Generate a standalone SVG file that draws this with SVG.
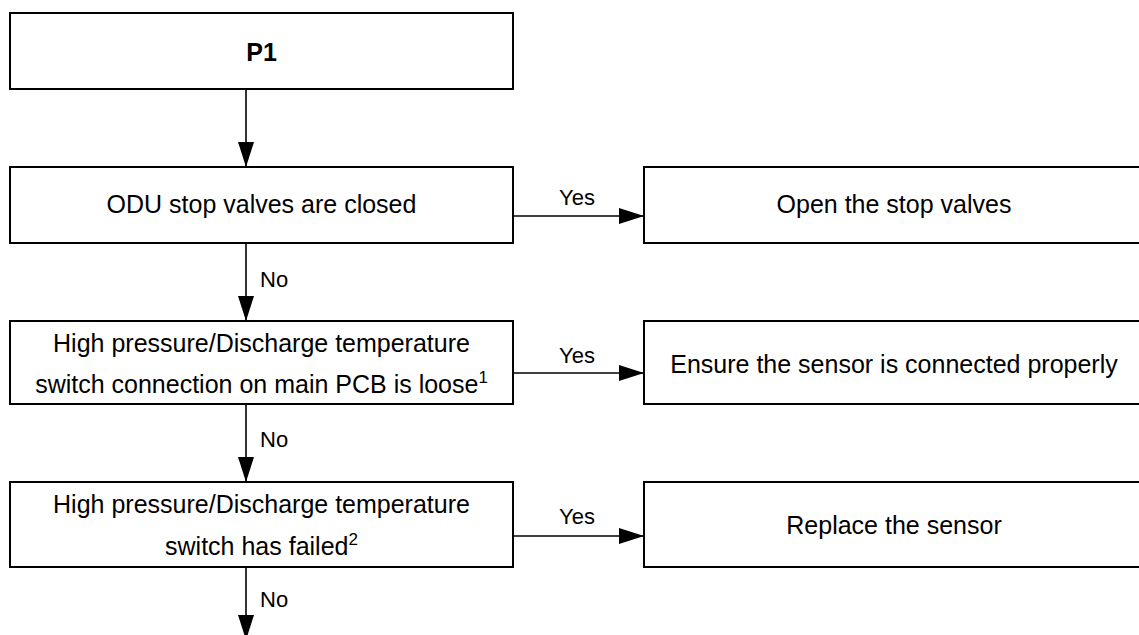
<svg xmlns="http://www.w3.org/2000/svg" width="1139" height="635" viewBox="0 0 1139 635">
<style>
.box{fill:#fff;stroke:#000;stroke-width:2}
.t{font-family:"Liberation Sans",Arial,sans-serif;font-size:25px;fill:#000;text-anchor:middle}
.b{font-weight:bold}
.lbl{font-family:"Liberation Sans",Arial,sans-serif;font-size:22px;fill:#000}
.sup{font-size:17px}
.ln{stroke:#000;stroke-width:1.6;fill:none}
</style>
<defs>
<marker id="ah" markerUnits="userSpaceOnUse" markerWidth="26" markerHeight="16" refX="25" refY="8" orient="auto">
<path d="M0,0 L25,8 L0,16 Z" fill="#000"/>
</marker>
</defs>
<rect width="1139" height="635" fill="#fff"/>
<g id="n-p1">
<rect class="box" x="10" y="13" width="503" height="76"/>
<text class="t b" x="261.5" y="61">P1</text>
</g>
<g id="n-odu">
<rect class="box" x="10" y="167" width="503" height="76"/>
<text class="t" x="261.5" y="213">ODU stop valves are closed</text>
</g>
<g id="n-open">
<rect class="box" x="644" y="167" width="502" height="76"/>
<text class="t" x="894" y="213">Open the stop valves</text>
</g>
<g id="n-loose">
<rect class="box" x="10" y="321" width="503" height="83"/>
<text class="t" x="261.5" y="352">High pressure/Discharge temperature</text>
<text class="t" x="261.5" y="393">switch connection on main PCB is loose<tspan class="sup" dy="-10">1</tspan></text>
</g>
<g id="n-ensure">
<rect class="box" x="644" y="321" width="502" height="83"/>
<text class="t" x="894" y="373">Ensure the sensor is connected properly</text>
</g>
<g id="n-failed">
<rect class="box" x="10" y="482" width="503" height="85"/>
<text class="t" x="261.5" y="513">High pressure/Discharge temperature</text>
<text class="t" x="261.5" y="555">switch has failed<tspan class="sup" dy="-10">2</tspan></text>
</g>
<g id="n-replace">
<rect class="box" x="644" y="482" width="502" height="85"/>
<text class="t" x="894" y="534">Replace the sensor</text>
</g>
<g id="connectors">
<line class="ln" x1="246" y1="89" x2="246" y2="167" marker-end="url(#ah)"/>
<line class="ln" x1="246" y1="243" x2="246" y2="321" marker-end="url(#ah)"/>
<line class="ln" x1="246" y1="404" x2="246" y2="482" marker-end="url(#ah)"/>
<line class="ln" x1="246" y1="567" x2="246" y2="640" marker-end="url(#ah)"/>
<line class="ln" x1="513" y1="216" x2="644" y2="216" marker-end="url(#ah)"/>
<line class="ln" x1="513" y1="373" x2="644" y2="373" marker-end="url(#ah)"/>
<line class="ln" x1="513" y1="536" x2="644" y2="536" marker-end="url(#ah)"/>
<text class="lbl" x="559" y="205">Yes</text>
<text class="lbl" x="559" y="363">Yes</text>
<text class="lbl" x="559" y="524">Yes</text>
<text class="lbl" x="260" y="287">No</text>
<text class="lbl" x="260" y="447">No</text>
<text class="lbl" x="260" y="607">No</text>
</g>
</svg>
